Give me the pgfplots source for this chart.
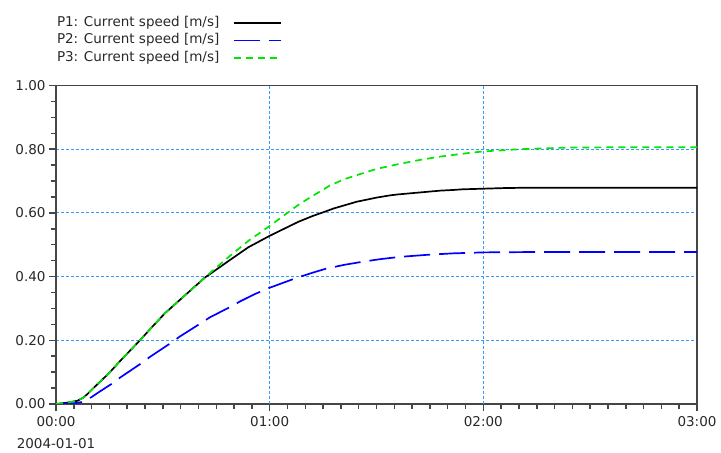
\documentclass[border=0pt]{standalone}
\usepackage{fontspec}
\setmainfont{DejaVu Sans}
\usepackage{pgfplots}
\pgfplotsset{compat=1.18}
\definecolor{gridblue}{RGB}{51,153,255}
\definecolor{axgray}{RGB}{70,70,70}
\definecolor{txt}{RGB}{40,40,40}
\definecolor{pblue}{RGB}{0,0,255}
\definecolor{pgreen}{RGB}{0,230,0}
\begin{document}
\begin{tikzpicture}
\begin{axis}[
  at={(56bp,49bp)}, anchor=south west,
  scale only axis, width=641bp, height=318.5bp,
  xmin=0, xmax=3, ymin=0, ymax=1,
  xtick={0,1,2,3},
  xticklabels={{00:00\\[7bp]2004-01-01},01:00,02:00,03:00},
  xticklabel style={align=center, yshift=-2bp},
  ytick={0,0.2,0.4,0.6,0.8,1},
  yticklabels={0.00,0.20,0.40,0.60,0.80,1.00},
  minor x tick num=11,
  minor y tick num=3,
  xtick pos=bottom, ytick pos=left, tick align=outside,
  major tick length=7bp, minor tick length=4.5bp,
  every major tick/.append style={axgray, line width=1.5bp},
  every minor tick/.append style={axgray, line width=1.5bp},
  axis line style={axgray, line width=1.3bp},
  ymajorgrids,
  every major grid/.append style={gridblue, line width=1.2bp, dash pattern=on 3bp off 2bp},
  tick label style={font=\fontsize{13.5bp}{15bp}\selectfont, text=txt},
  legend style={at={(0,1.22)}, anchor=north west, draw=none, fill=none,
    inner sep=0pt, outer sep=0pt, row sep=2.5bp,
    font=\fontsize{13.5bp}{15bp}\selectfont, text=txt,
    nodes={inner sep=1bp, text height=10bp, text depth=3bp},
    /tikz/column 1/.style={column sep=13bp}},
  legend cell align=left,
  legend plot pos=right,
  legend image code/.code={\draw[#1] (0bp,0bp) -- (47bp,0bp);},
]
\draw[gridblue, line width=1.4bp, dash pattern=on 3bp off 2bp] (axis cs:1,0) -- (axis cs:1,1);
\draw[gridblue, line width=1.4bp, dash pattern=on 3bp off 2bp] (axis cs:2,0) -- (axis cs:2,1);
\addplot[black, line width=1.7bp] coordinates {
(0,0) (0.05,0.004) (0.1,0.010) (0.128,0.020) (0.15,0.033) (0.175,0.050)
(0.2,0.066) (0.25,0.098) (0.3,0.135) (0.35,0.170) (0.393,0.200)
(0.45,0.242) (0.51,0.285) (0.6,0.339) (0.697,0.397) (0.814,0.452)
(0.9,0.492) (1.0,0.528) (1.134,0.572) (1.2,0.590) (1.259,0.604)
(1.3,0.614) (1.407,0.635) (1.5,0.648) (1.563,0.655) (1.6,0.658)
(1.7,0.664) (1.8,0.670) (1.86,0.672) (1.9,0.674) (2.0,0.676)
(2.1,0.678) (2.2,0.679) (2.5,0.679) (3.0,0.679)};
\addlegendentry{P1: Current speed [m/s]}
\addplot[pblue, line width=1.7bp, dash pattern=on 26bp off 9bp] coordinates {
(0,0) (0.08,0.002) (0.12,0.006) (0.167,0.022) (0.2,0.037) (0.26,0.063)
(0.3,0.083) (0.393,0.125) (0.44,0.148) (0.534,0.190) (0.58,0.212)
(0.674,0.252) (0.72,0.272) (0.822,0.307) (0.861,0.322) (0.93,0.345)
(1.0,0.365) (1.126,0.396) (1.2,0.412) (1.264,0.425) (1.35,0.437)
(1.438,0.447) (1.52,0.455) (1.61,0.462) (1.75,0.469) (1.86,0.473)
(2.0,0.476) (2.2,0.477) (3.0,0.477)};
\addlegendentry{P2: Current speed [m/s]}
\addplot[pgreen, line width=1.7bp, dash pattern=on 7bp off 5bp] coordinates {
(0,0) (0.05,0.004) (0.1,0.010) (0.128,0.020) (0.15,0.033) (0.175,0.050)
(0.2,0.066) (0.25,0.098) (0.3,0.135) (0.35,0.170) (0.393,0.200)
(0.45,0.242) (0.51,0.285) (0.6,0.339) (0.697,0.397) (0.735,0.420)
(0.814,0.465) (0.9,0.512) (1.0,0.559) (1.134,0.625) (1.2,0.653)
(1.282,0.686) (1.35,0.706) (1.438,0.725) (1.5,0.738) (1.594,0.752)
(1.7,0.766) (1.8,0.777) (1.86,0.782) (1.93,0.788) (2.0,0.793)
(2.1,0.797) (2.17,0.800) (2.3,0.803) (2.4,0.805) (2.6,0.806) (3.0,0.806)};
\addlegendentry{P3: Current speed [m/s]}
\end{axis}
\pgfresetboundingbox
\useasboundingbox (0,0) rectangle (721bp,453bp);
\end{tikzpicture}
\end{document}
